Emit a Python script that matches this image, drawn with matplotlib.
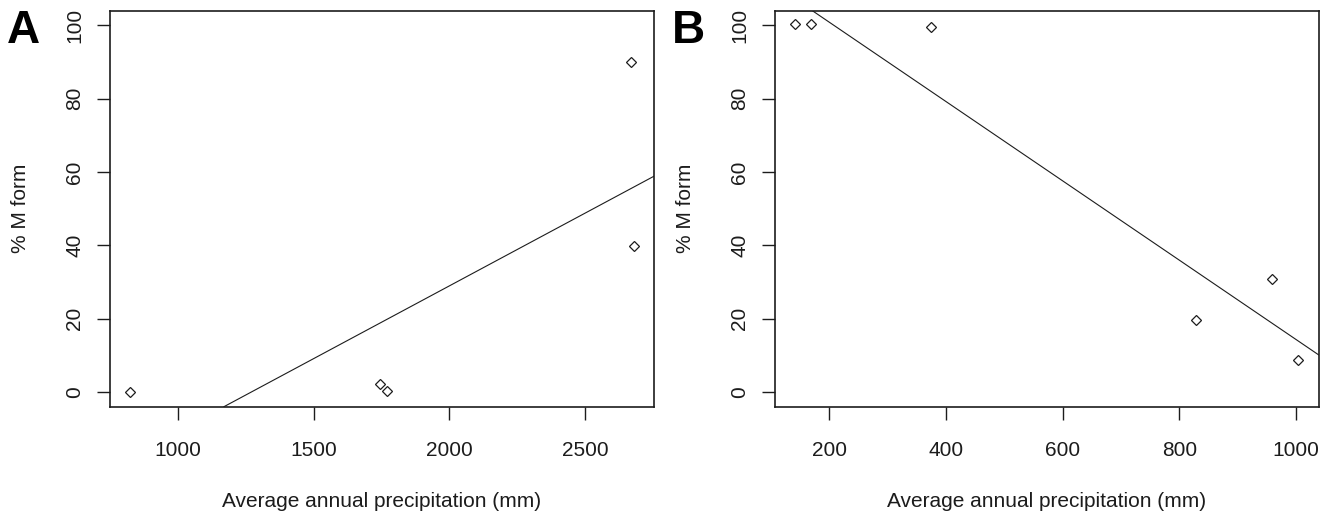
import matplotlib
matplotlib.use('Agg')
import matplotlib.pyplot as plt
import numpy as np

# ── data ────────────────────────────────────────────────────────
precip_a = [824, 1745, 1770, 2670, 2680]
mform_a = [0.0, 2.3, 0.3, 89.9, 39.8]
precip_b = [141, 169, 374, 829, 958, 1004]
mform_b = [100.2, 100.2, 99.5, 19.5, 30.7, 8.6]

xticks_a = [1000, 1500, 2000, 2500]
xticks_b = [200, 400, 600, 800, 1000]
yticks = [0, 20, 40, 60, 80, 100]
panel_tags = ['A', 'B']

INK = '#1c1c1c'
plt.rcParams['font.family'] = ['Liberation Sans', 'DejaVu Sans']

fig = plt.figure(figsize=(13.29, 5.2), dpi=100)
fig.patch.set_facecolor('white')


def r_lim(v):
    # R-style 4% axis expansion
    lo, hi = min(v), max(v)
    pad = (hi - lo) * 0.04
    return lo - pad, hi + pad


def panel(rect, x, y, xticks, tag):
    ax = fig.add_axes(rect)
    ax.plot(x, y, ls='none', marker='D', ms=4.6, mfc='white', mec=INK, mew=0.9,
            zorder=3)
    m, b = np.polyfit(x, y, 1)
    ax.axline((0, b), slope=m, color=INK, lw=0.8, zorder=2)

    ax.set_xlim(*r_lim(x))
    ax.set_ylim(*r_lim([0, 100]))
    ax.set_xticks(xticks)
    ax.set_yticks(yticks)
    for s in ax.spines.values():
        s.set_color(INK)
        s.set_linewidth(1.2)
    ax.tick_params(axis='both', direction='out', length=9.5, width=1.0,
                   color=INK, labelcolor=INK, labelsize=15)
    ax.tick_params(axis='x', pad=15)
    ax.tick_params(axis='y', pad=9, labelrotation=90)
    for lab in ax.get_yticklabels():
        lab.set_va('center')

    ax.set_xlabel('Average annual precipitation (mm)', fontsize=15,
                  color=INK, va='center')
    ax.xaxis.set_label_coords(0.5, -0.24)
    ax.set_ylabel('% M form', fontsize=15, color=INK, va='center')
    ax.yaxis.set_label_coords(-0.165, 0.5)

    fig.text(rect[0] - 0.065, 0.94, tag, fontsize=33, fontweight='bold',
             color='black', ha='center', va='center')
    return ax


panel([0.0828, 0.2179, 0.4093, 0.7619], precip_a, mform_a, xticks_a, panel_tags[0])
panel([0.5831, 0.2179, 0.4091, 0.7619], precip_b, mform_b, xticks_b, panel_tags[1])

plt.savefig('out.png', dpi=100, facecolor='white')
plt.close()
